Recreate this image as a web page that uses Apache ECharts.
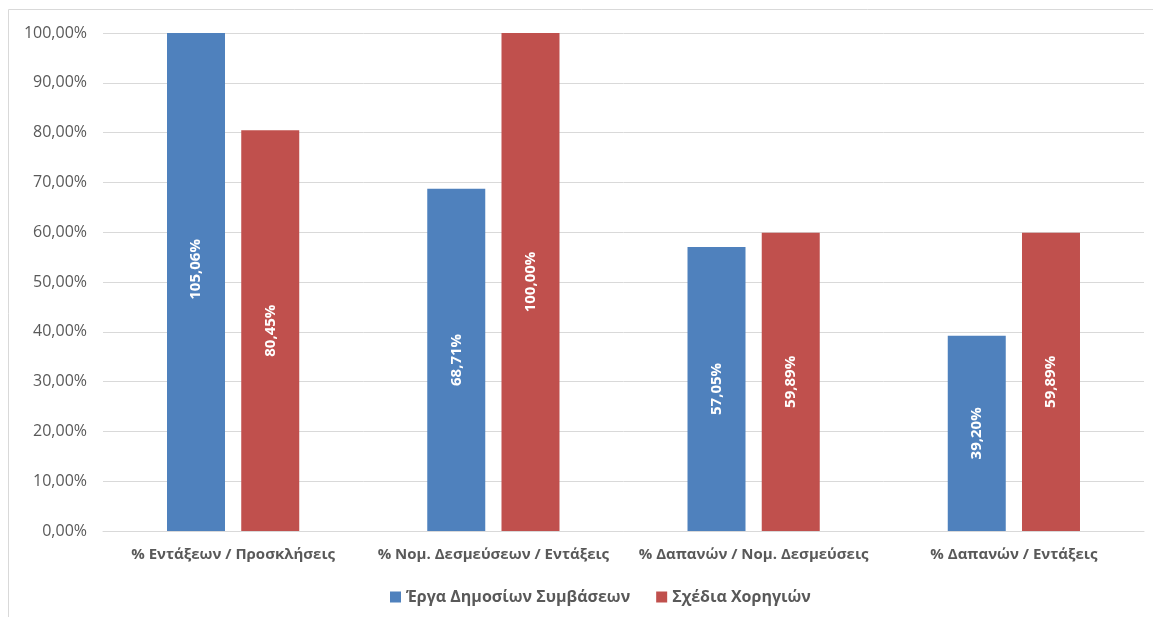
<!DOCTYPE html>
<html><head><meta charset="utf-8">
<script src="https://cdn.jsdelivr.net/npm/echarts@6/dist/echarts.min.js"></script>
<style>html,body{margin:0;padding:0;background:#fff}#c{width:1153px;height:617px}</style>
</head><body><div id="c"></div>
<script>
const categories = ['% Εντάξεων / Προσκλήσεις', '% Νομ. Δεσμεύσεων / Εντάξεις', '% Δαπανών / Νομ. Δεσμεύσεις', '% Δαπανών / Εντάξεις'];
const seriesNames = ['Έργα Δημοσίων Συμβάσεων', 'Σχέδια Χορηγιών'];
const publicWorks = [105.06, 68.71, 57.05, 39.20];
const grants = [80.45, 100.00, 59.89, 59.89];
const yTicks = [0, 10, 20, 30, 40, 50, 60, 70, 80, 90, 100];

const yMax = yTicks[yTicks.length - 1];
const fmt = v => v.toFixed(2).replace('.', ',') + '%';
const font = '"Open Sans", "Noto Sans", sans-serif';
const chart = echarts.init(document.getElementById('c'));
const labelCfg = {
  show: true, position: 'inside', rotate: 90, color: '#fff', fontWeight: 'bold',
  fontSize: 15, fontFamily: font, formatter: p => fmt(p.value)
};
// Excel centres the label on the full (unclipped) bar; shift clipped bars' labels upward
// (offset is in the rotated text frame: +x points up the screen)
const plotH = 617 - 33 - 86;
const toData = arr => arr.map(v => v > yMax
  ? { value: v, label: { offset: [((v - yMax) / 2) * plotH / yMax, 0] } }
  : v);
chart.setOption({
  animation: false,
  textStyle: { fontFamily: font },
  graphic: [{ type: 'rect', shape: { x: 8.5, y: 9.5, width: 1150, height: 620 },
    style: { fill: 'none', stroke: '#d9d9d9', lineWidth: 1 } }],
  grid: { left: 103, right: 9, top: 33, bottom: 86 },
  legend: {
    data: seriesNames, bottom: 7, left: 385, itemWidth: 11, itemHeight: 11, itemGap: 26,
    icon: 'rect',
    textStyle: { color: '#595959', fontWeight: 'bold', fontSize: 16, fontFamily: font }
  },
  xAxis: {
    type: 'category', data: categories,
    axisLine: { lineStyle: { color: '#d9d9d9' } }, axisTick: { show: false },
    axisLabel: { color: '#595959', fontWeight: 'bold', fontSize: 15, margin: 16, interval: 0 }
  },
  yAxis: {
    type: 'value', min: yTicks[0], max: yMax, interval: 10,
    axisLabel: { color: '#595959', fontSize: 16, margin: 16, formatter: v => fmt(v) },
    splitLine: { lineStyle: { color: '#d9d9d9' } },
    axisLine: { show: false }, axisTick: { show: false }
  },
  series: [
    { name: seriesNames[0], type: 'bar', data: toData(publicWorks), barWidth: 58, barGap: '28%',
      itemStyle: { color: '#4f81bd' }, label: labelCfg },
    { name: seriesNames[1], type: 'bar', data: toData(grants), barWidth: 58,
      itemStyle: { color: '#c0504d' }, label: labelCfg }
  ]
});
</script></body></html>
